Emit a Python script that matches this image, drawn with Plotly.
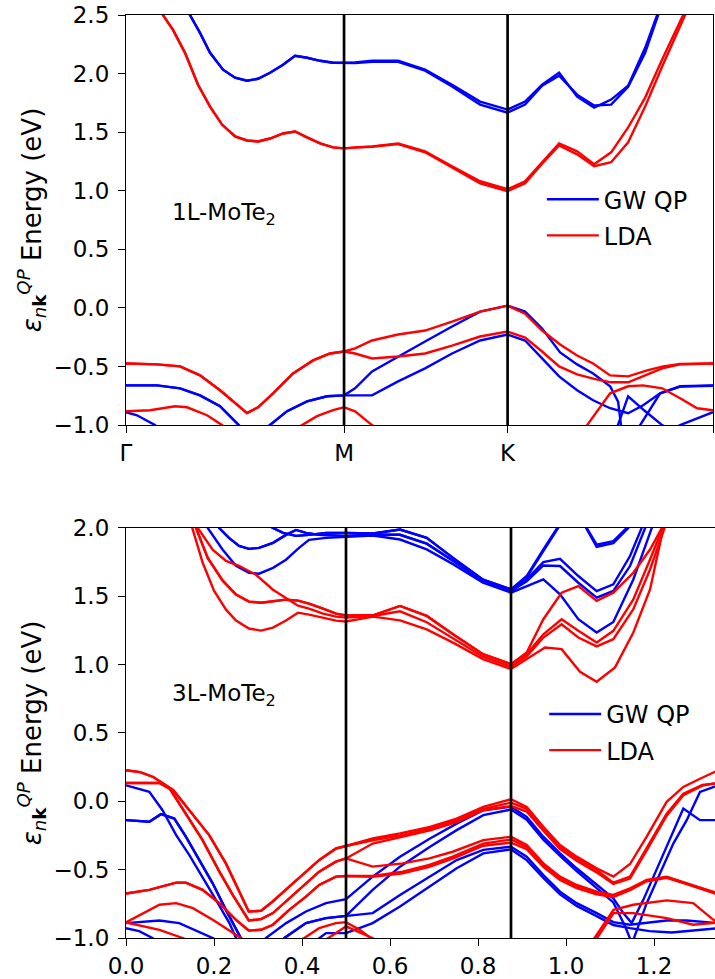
import plotly.graph_objects as go

# ---------------------------------------------------------------
# k-path: Γ - M - K - Γ (cumulative path length)
# ---------------------------------------------------------------
K_TICKS = [0.0, 0.5, 0.875, 1.346]
K_LABELS = ["Γ", "M", "K", "Γ"]
K_LINES = [0.5, 0.875]          # high-symmetry markers drawn as vertical lines

# ===============================================================
# 1L-MoTe2 bands, each point is (k, E [eV])
# ===============================================================
# LDA conduction band
L1_LDA_CB_GM = [(0, 2.85), (0.04, 2.72), (0.07, 2.58), (0.0849, 2.5), (0.1078, 2.373), (0.1353, 2.177),
                (0.1651, 1.905), (0.1927, 1.718), (0.2202, 1.565), (0.25, 1.463), (0.2775, 1.429),
                (0.3028, 1.421), (0.3303, 1.446), (0.3601, 1.489), (0.3876, 1.506), (0.4151, 1.455),
                (0.445, 1.404), (0.4748, 1.370), (0.5, 1.362)]
L1_LDA_CB_MK_A = [(0.5252, 1.370), (0.5642, 1.379), (0.6239, 1.404), (0.6858, 1.336), (0.7477, 1.209),
                  (0.8119, 1.081), (0.875, 1.013)]
L1_LDA_CB_MK_B = [(0.5252, 1.368), (0.5642, 1.376), (0.6239, 1.398), (0.6858, 1.328), (0.7477, 1.198),
                  (0.8119, 1.062), (0.875, 0.996)]
L1_LDA_CB_KG_A = [(0.9151, 1.081), (0.9541, 1.243), (0.9931, 1.404), (1.0344, 1.336), (1.0734, 1.226),
                  (1.1124, 1.328), (1.1514, 1.540), (1.1904, 1.795), (1.2294, 2.12), (1.2775, 2.5),
                  (1.31, 2.68), (1.346, 2.85)]
L1_LDA_CB_KG_B = [(0.9151, 1.064), (0.9541, 1.23), (0.9931, 1.387), (1.0344, 1.311), (1.0734, 1.209),
                  (1.1124, 1.243), (1.1514, 1.413), (1.1904, 1.718), (1.2294, 2.06), (1.282, 2.5),
                  (1.31, 2.66), (1.346, 2.85)]

# GW quasiparticle conduction band
L1_GW_CB_GM = [(0, 3.15), (0.05, 3.05), (0.1, 2.81), (0.1468, 2.5), (0.1697, 2.347), (0.1927, 2.177),
               (0.2225, 2.033), (0.25, 1.965), (0.2775, 1.939), (0.3028, 1.956), (0.3303, 2.007),
               (0.3601, 2.075), (0.3876, 2.152), (0.4151, 2.135), (0.445, 2.109), (0.4748, 2.092),
               (0.5, 2.092)]
L1_GW_CB_MK_A = [(0.5252, 2.095), (0.5642, 2.109), (0.6239, 2.109), (0.6858, 2.033), (0.7477, 1.905),
                 (0.8119, 1.761), (0.875, 1.693)]
L1_GW_CB_MK_B = [(0.5252, 2.09), (0.5642, 2.10), (0.6239, 2.10), (0.6858, 2.025), (0.7477, 1.89),
                 (0.8119, 1.735), (0.875, 1.667)]
L1_GW_CB_KG_A = [(0.9151, 1.761), (0.9541, 1.905), (0.9931, 2.007), (1.0344, 1.803), (1.0734, 1.710),
                 (1.1124, 1.778), (1.1514, 1.897), (1.1904, 2.220), (1.2179, 2.5), (1.26, 2.8),
                 (1.30, 3.05), (1.346, 3.15)]
L1_GW_CB_KG_B = [(0.9151, 1.735), (0.9541, 1.897), (0.9931, 1.982), (1.0344, 1.820), (1.0734, 1.727),
                 (1.1124, 1.735), (1.1514, 1.888), (1.1904, 2.177), (1.2202, 2.5), (1.26, 2.78),
                 (1.30, 3.03), (1.346, 3.15)]

# LDA valence bands
L1_LDA_VB_GM = [(0, -0.474), (0.0711, -0.482), (0.1239, -0.499), (0.1697, -0.576), (0.2156, -0.703),
                (0.25, -0.814), (0.2775, -0.898), (0.3028, -0.848), (0.3372, -0.729), (0.383, -0.559),
                (0.4289, -0.448), (0.4679, -0.389), (0.5, -0.372)]
L1_LDA_VB_MK_A = [(0.5252, -0.346), (0.5642, -0.278), (0.6239, -0.227), (0.6858, -0.193), (0.7477, -0.117),
                  (0.8119, -0.032), (0.875, 0.019)]
L1_LDA_VB_MK_B = [(0.5252, -0.389), (0.5642, -0.431), (0.6239, -0.414), (0.6858, -0.389), (0.7477, -0.321),
                  (0.8119, -0.244), (0.875, -0.202)]
L1_LDA_VB_KG_A = [(0.9151, -0.049), (0.9541, -0.193), (0.9954, -0.312), (1.0344, -0.406), (1.0711, -0.474),
                  (1.1101, -0.576), (1.1514, -0.584), (1.195, -0.533), (1.2317, -0.499), (1.2706, -0.478),
                  (1.346, -0.474)]
L1_LDA_VB_KG_B = [(0.9151, -0.253), (0.9541, -0.372), (0.9931, -0.499), (1.0344, -0.567), (1.0734, -0.605),
                  (1.1124, -0.635), (1.1514, -0.635), (1.1904, -0.576), (1.2294, -0.516), (1.2706, -0.482),
                  (1.346, -0.474)]
L1_LDA_VB2 = [(0, -0.882), (0.055, -0.873), (0.1124, -0.839), (0.1399, -0.848), (0.1858, -0.916),
              (0.2202, -1.0), (0.26, -1.12), (0.35, -1.12), (0.4037, -1.0), (0.4381, -0.924), (0.4748, -0.873),
              (0.5, -0.848), (0.5252, -0.882), (0.5642, -1.0), (0.62, -1.15), (0.875, -1.4), (1.03, -1.15),
              (1.0573, -1.0), (1.1101, -0.729), (1.1514, -0.669), (1.1858, -0.661), (1.2294, -0.686),
              (1.2706, -0.771), (1.3096, -0.856), (1.346, -0.873)]

# GW quasiparticle valence bands
L1_GW_VB_GM = [(0, -0.661), (0.0711, -0.661), (0.1239, -0.686), (0.1697, -0.746), (0.2156, -0.839),
               (0.2569, -1.0), (0.28, -1.08), (0.30, -1.09), (0.3303, -1.0), (0.3693, -0.881), (0.4151, -0.797),
               (0.461, -0.754), (0.5, -0.746)]
L1_GW_VB_MK_A = [(0.5252, -0.686), (0.5642, -0.542), (0.6239, -0.414), (0.6858, -0.287), (0.7477, -0.159),
                 (0.8119, -0.032), (0.875, 0.019)]
L1_GW_VB_MK_B = [(0.5252, -0.746), (0.5642, -0.746), (0.6239, -0.627), (0.6858, -0.516), (0.7477, -0.389),
                 (0.8119, -0.278), (0.875, -0.227)]
L1_GW_VB_KG_A = [(0.9151, -0.032), (0.9541, -0.176), (0.9954, -0.380), (1.0344, -0.482), (1.0711, -0.559),
                 (1.1101, -0.669), (1.1284, -0.80), (1.135, -1.0), (1.15, -1.2), (1.346, -1.4)]
L1_GW_VB_KG_B = [(0.9151, -0.278), (0.9541, -0.431), (0.9931, -0.584), (1.0344, -0.703), (1.0711, -0.788),
                 (1.1101, -0.856), (1.1514, -0.899), (1.1858, -0.831), (1.2248, -0.729), (1.2706, -0.669),
                 (1.346, -0.661)]
L1_GW_VB2 = [(0, -0.89), (0.0252, -0.916), (0.0665, -1.0), (0.1, -1.1), (0.3, -1.3), (0.875, -1.5),
             (1.10, -1.2), (1.128, -1.0), (1.1514, -0.754), (1.19, -0.88), (1.2294, -1.0), (1.25, -1.04),
             (1.2706, -1.0), (1.346, -0.89)]
L1_GW_VB3 = [(1.10, -1.4), (1.16, -1.15), (1.179, -1.0), (1.2248, -0.729), (1.2706, -0.672), (1.346, -0.664)]

# ===============================================================
# 3L-MoTe2 bands, each point is (k, E [eV])
# ===============================================================
# LDA conduction bands
L3_LDA_CB_GM_1 = [(0, 2.75), (0.06, 2.62), (0.12, 2.33), (0.1516, 2.0), (0.1743, 1.745), (0.2, 1.541),
                  (0.2273, 1.402), (0.25, 1.322), (0.2795, 1.264), (0.3068, 1.249), (0.3341, 1.271),
                  (0.3636, 1.322), (0.3909, 1.380), (0.4159, 1.366), (0.4477, 1.344), (0.4773, 1.322), (0.5, 1.315)]
L3_LDA_CB_GM_2 = [(0, 2.75), (0.06, 2.63), (0.12, 2.36), (0.159, 2.0), (0.1857, 1.781), (0.2198, 1.614),
                  (0.25, 1.512), (0.2795, 1.461), (0.3068, 1.453), (0.3341, 1.461), (0.3636, 1.475),
                  (0.3909, 1.468), (0.4159, 1.446), (0.4477, 1.410), (0.4773, 1.373), (0.5, 1.359)]
L3_LDA_CB_GM_3 = [(0, 2.75), (0.06, 2.64), (0.12, 2.38), (0.163, 2.0), (0.197, 1.840), (0.2273, 1.759),
                  (0.2568, 1.723), (0.2955, 1.657), (0.3341, 1.548), (0.3636, 1.490), (0.3909, 1.431),
                  (0.4159, 1.410), (0.4477, 1.373), (0.4773, 1.351), (0.5, 1.344)]
L3_LDA_CB_MK_1 = [(0.5614, 1.351), (0.6227, 1.324), (0.6834, 1.258), (0.7432, 1.161), (0.8114, 1.040), (0.875, 0.968)]
L3_LDA_CB_MK_2 = [(0.5614, 1.361), (0.6227, 1.429), (0.6834, 1.356), (0.7432, 1.222), (0.8114, 1.076), (0.875, 1.003)]
L3_LDA_CB_MK_3 = [(0.5614, 1.356), (0.6227, 1.39), (0.6834, 1.31), (0.7432, 1.19), (0.8114, 1.058), (0.875, 0.985)]
L3_LDA_CB_KG_1 = [(0.9107, 1.04), (0.9523, 1.125), (0.990, 1.113), (1.0318, 0.948), (1.0697, 0.875),
                  (1.1114, 0.980), (1.153, 1.235), (1.191, 1.55), (1.2212, 2.0), (1.27, 2.35), (1.346, 2.75)]
L3_LDA_CB_KG_2 = [(0.9107, 1.06), (0.9485, 1.198), (0.990, 1.295), (1.028, 1.198), (1.0697, 1.133),
                  (1.1076, 1.186), (1.153, 1.405), (1.191, 1.696), (1.224, 2.0), (1.27, 2.33), (1.346, 2.75)]
L3_LDA_CB_KG_3 = [(0.9107, 1.077), (0.9485, 1.222), (0.990, 1.332), (1.028, 1.247), (1.0697, 1.162),
                  (1.1076, 1.247), (1.153, 1.477), (1.191, 1.769), (1.22, 2.0), (1.27, 2.34), (1.346, 2.75)]
L3_LDA_CB_KG_4 = [(0.9107, 1.089), (0.9485, 1.332), (0.990, 1.526), (1.028, 1.575), (1.0697, 1.466),
                  (1.1076, 1.526), (1.153, 1.672), (1.191, 1.842), (1.2175, 2.0), (1.27, 2.33), (1.346, 2.75)]

# GW quasiparticle conduction bands
L3_GW_CB_GM_1 = [(0, 3.0), (0.1, 2.6), (0.16, 2.25), (0.1857, 2.0), (0.2198, 1.840), (0.25, 1.723),
                 (0.2795, 1.672), (0.3023, 1.665), (0.3341, 1.708), (0.3636, 1.767), (0.3932, 1.854),
                 (0.4159, 1.913), (0.4545, 1.927), (0.5, 1.934)]
L3_GW_CB_GM_2 = [(0, 3.0), (0.1, 2.65), (0.18, 2.2), (0.2114, 2.0), (0.2341, 1.927), (0.2568, 1.869),
                 (0.2795, 1.847), (0.3023, 1.854), (0.3341, 1.891), (0.3636, 1.949), (0.3864, 1.985),
                 (0.4091, 1.964), (0.4386, 1.949), (0.5, 1.942)]
L3_GW_CB_GM_3 = [(0, 3.0), (0.15, 2.5), (0.25, 2.15), (0.3, 2.06), (0.334, 2.0), (0.357, 1.964),
                 (0.386, 1.942), (0.416, 1.949), (0.455, 1.964), (0.5, 1.964)]
L3_GW_CB_MK_1 = [(0.5614, 1.959), (0.6227, 1.988), (0.6834, 1.927), (0.7432, 1.781), (0.8114, 1.621), (0.875, 1.550)]
L3_GW_CB_MK_2 = [(0.5614, 1.95), (0.6227, 1.95), (0.6834, 1.885), (0.7432, 1.76), (0.8114, 1.61), (0.875, 1.538)]
L3_GW_CB_MK_3 = [(0.5614, 1.944), (0.6227, 1.915), (0.6834, 1.843), (0.7432, 1.735), (0.8114, 1.599), (0.875, 1.526)]
L3_GW_CB_KG_1 = [(0.9107, 1.648), (0.9485, 1.842), (0.979, 2.0), (1.01, 2.15), (1.03, 2.1), (1.047, 2.0),
                 (1.0697, 1.878), (1.1076, 1.903), (1.138, 2.0), (1.2, 2.4), (1.346, 3.0)]
L3_GW_CB_KG_1B = [(0.9107, 1.64), (0.9485, 1.83), (0.979, 1.99), (1.01, 2.14), (1.03, 2.09), (1.047, 1.99),
                  (1.0697, 1.862), (1.1076, 1.888), (1.142, 2.0), (1.2, 2.38), (1.346, 3.0)]
L3_GW_CB_KG_2 = [(0.9107, 1.623), (0.9485, 1.75), (0.9864, 1.774), (1.028, 1.648), (1.0697, 1.538),
                 (1.1076, 1.587), (1.1455, 1.794), (1.172, 2.0), (1.22, 2.45), (1.346, 3.0)]
L3_GW_CB_KG_3 = [(0.9107, 1.61), (0.9485, 1.725), (0.9864, 1.721), (1.028, 1.599), (1.0697, 1.49),
                 (1.1076, 1.539), (1.1455, 1.721), (1.18, 2.0), (1.23, 2.45), (1.346, 3.0)]
L3_GW_CB_KG_4 = [(0.9107, 1.575), (0.9485, 1.623), (0.9864, 1.514), (1.028, 1.332), (1.0697, 1.235),
                 (1.1076, 1.312), (1.153, 1.623), (1.195, 2.0), (1.24, 2.45), (1.346, 3.0)]

# LDA valence bands
L3_LDA_VB_GM_A = [(0, 0.227), (0.032, 0.214), (0.062, 0.178), (0.1075, 0.081), (0.138, -0.041), (0.189, -0.247),
                  (0.227, -0.454), (0.2575, -0.661), (0.279, -0.806), (0.307, -0.801), (0.3334, -0.733),
                  (0.371, -0.624), (0.409, -0.515), (0.4394, -0.429), (0.4773, -0.345), (0.5, -0.327)]
L3_LDA_VB_GM_B = [(0, 0.134), (0.076, 0.134), (0.10, 0.09), (0.136, -0.09), (0.174, -0.284), (0.21, -0.502),
                  (0.2425, -0.685), (0.279, -0.872), (0.307, -0.862), (0.334, -0.818), (0.371, -0.709),
                  (0.409, -0.600), (0.439, -0.515), (0.477, -0.442), (0.5, -0.418)]
L3_LDA_VB_GM_C = [(0, -0.675), (0.053, -0.648), (0.114, -0.595), (0.136, -0.595), (0.174, -0.648),
                  (0.212, -0.745), (0.25, -0.867), (0.279, -0.945), (0.307, -0.94), (0.334, -0.903),
                  (0.371, -0.794), (0.409, -0.697), (0.439, -0.612), (0.477, -0.551), (0.5, -0.546)]
L3_LDA_VB_GM_D = [(0, -0.886), (0.076, -0.757), (0.114, -0.745), (0.152, -0.782), (0.197, -0.867),
                  (0.243, -0.964), (0.27, -1.02), (0.3, -1.08), (0.36, -1.08), (0.405, -1.0), (0.439, -0.928),
                  (0.477, -0.891), (0.5, -0.884)]
L3_LDA_VB_GM_E = [(0, -0.886), (0.076, -0.94), (0.129, -1.0), (0.2, -1.1), (0.4, -1.1), (0.46, -1.0), (0.5, -0.915)]
L3_LDA_VB_MK_U1 = [(0.5606, -0.272), (0.6227, -0.235), (0.6909, -0.187), (0.7515, -0.126), (0.8121, -0.041), (0.875, 0.015)]
L3_LDA_VB_MK_U2 = [(0.5606, -0.285), (0.6227, -0.25), (0.6909, -0.20), (0.7515, -0.14), (0.8121, -0.055), (0.875, -0.01)]
L3_LDA_VB_MK_U3 = [(0.5606, -0.309), (0.6227, -0.262), (0.6909, -0.212), (0.7515, -0.152), (0.8121, -0.065), (0.875, -0.035)]
L3_LDA_VB_MK_L1 = [(0.5606, -0.478), (0.6288, -0.454), (0.6894, -0.418), (0.7424, -0.369), (0.8121, -0.284), (0.875, -0.259)]
L3_LDA_VB_MK_L2 = [(0.5606, -0.546), (0.6288, -0.515), (0.6894, -0.466), (0.7424, -0.405), (0.8121, -0.309), (0.875, -0.279)]
L3_LDA_VB_MK_L3 = [(0.5606, -0.552), (0.6288, -0.527), (0.6894, -0.48), (0.7424, -0.42), (0.8121, -0.325), (0.875, -0.303)]
L3_LDA_VB_MK_D = [(0.531, -0.94), (0.556, -1.0), (0.6, -1.1), (0.875, -1.4)]
L3_LDA_VB_MK_E = [(0.54, -0.975), (0.56, -1.0), (0.6, -1.08), (0.875, -1.4)]
L3_LDA_VB_KG_A = [(0.9107, -0.041), (0.9485, -0.187), (0.9864, -0.320), (1.0242, -0.405), (1.0697, -0.490),
                  (1.1076, -0.551), (1.1455, -0.459), (1.1834, -0.259), (1.2288, -0.004), (1.2666, 0.105),
                  (1.3045, 0.165), (1.346, 0.227)]
L3_LDA_VB_KG_B = [(0.9107, -0.055), (0.9485, -0.2), (0.9864, -0.333), (1.0242, -0.418), (1.0697, -0.503),
                  (1.1076, -0.595), (1.1455, -0.551), (1.1834, -0.345), (1.2288, -0.090), (1.2666, 0.056),
                  (1.31, 0.12), (1.346, 0.134)]
L3_LDA_VB_KG_C = [(0.9107, -0.075), (0.9485, -0.215), (0.9864, -0.35), (1.0242, -0.435), (1.0697, -0.52),
                  (1.1076, -0.605), (1.1455, -0.565), (1.1834, -0.36), (1.2288, -0.105), (1.2666, 0.045),
                  (1.31, 0.115), (1.346, 0.134)]
L3_LDA_VB_KG_L1 = [(0.9107, -0.320), (0.9485, -0.454), (0.9864, -0.551), (1.0242, -0.612), (1.0697, -0.661),
                   (1.1076, -0.685), (1.1455, -0.636), (1.1834, -0.575), (1.2288, -0.551), (1.2742, -0.600),
                   (1.3386, -0.673), (1.346, -0.675)]
L3_LDA_VB_KG_L2 = [(0.9107, -0.335), (0.9485, -0.47), (0.9864, -0.565), (1.0242, -0.625), (1.0697, -0.672),
                   (1.1076, -0.695), (1.1455, -0.645), (1.1834, -0.58), (1.2288, -0.555), (1.2742, -0.603),
                   (1.3386, -0.673), (1.346, -0.675)]
L3_LDA_VB_KG_L3 = [(0.9107, -0.35), (0.9485, -0.48), (0.9864, -0.575), (1.0242, -0.635), (1.0697, -0.68),
                   (1.1076, -0.70), (1.1455, -0.65), (1.1834, -0.585), (1.2288, -0.56), (1.2742, -0.606),
                   (1.3386, -0.675), (1.346, -0.675)]
L3_LDA_VB_KG_D = [(1.04, -1.1), (1.065, -1.0), (1.108, -0.794), (1.153, -0.757), (1.229, -0.725),
                  (1.289, -0.745), (1.335, -0.867), (1.346, -0.886)]
L3_LDA_VB_KG_E = [(1.05, -1.1), (1.07, -1.0), (1.108, -0.818), (1.153, -0.818), (1.229, -0.855),
                  (1.289, -0.903), (1.346, -0.886)]

# GW quasiparticle valence bands
L3_GW_VB_GM_A = [(0, 0.117), (0.053, 0.069), (0.083, -0.065), (0.114, -0.247), (0.144, -0.393), (0.174, -0.551),
                 (0.2045, -0.721), (0.235, -0.891), (0.25, -1.0), (0.28, -1.1), (0.3, -1.12), (0.318, -1.0),
                 (0.364, -0.891), (0.409, -0.806), (0.4545, -0.745), (0.5, -0.716)]
L3_GW_VB_GM_B = [(0, -0.138), (0.053, -0.15), (0.0795, -0.094), (0.1098, -0.126), (0.136, -0.259),
                 (0.166, -0.429), (0.197, -0.6), (0.227, -0.794), (0.261, -1.0), (0.29, -1.12), (0.33, -1.1),
                 (0.36, -1.0), (0.409, -0.891), (0.4545, -0.855), (0.5, -0.838)]
L3_GW_VB_GM_C = [(0, -0.891), (0.076, -0.872), (0.121, -0.891), (0.197, -1.0), (0.25, -1.1), (0.4, -1.1),
                 (0.44, -1.0), (0.4545, -0.964), (0.5, -0.964)]
L3_GW_VB_GM_D = [(0, -0.928), (0.03, -0.95), (0.06, -1.0), (0.1, -1.1), (1.346, -1.4)]
L3_GW_VB_MK_U1 = [(0.5606, -0.551), (0.6227, -0.405), (0.6909, -0.272), (0.7515, -0.163), (0.8121, -0.065), (0.875, -0.04)]
L3_GW_VB_MK_U2 = [(0.5606, -0.648), (0.6227, -0.478), (0.6909, -0.332), (0.7515, -0.211), (0.8121, -0.101), (0.875, -0.06)]
L3_GW_VB_MK_L1 = [(0.5606, -0.818), (0.6227, -0.685), (0.6909, -0.551), (0.7515, -0.43), (0.8121, -0.355), (0.875, -0.332)]
L3_GW_VB_MK_L2 = [(0.5606, -0.891), (0.6227, -0.770), (0.6909, -0.624), (0.7515, -0.490), (0.8121, -0.381), (0.875, -0.352)]
L3_GW_VB_KG_U1 = [(0.9107, -0.114), (0.9485, -0.259), (0.9864, -0.381), (1.0242, -0.49), (1.0697, -0.612),
                  (1.1076, -0.709), (1.1303, -0.818), (1.1493, -0.891), (1.1757, -0.721), (1.2061, -0.502),
                  (1.2364, -0.284), (1.2666, -0.053), (1.3045, -0.138), (1.346, -0.138)]
L3_GW_VB_KG_U2 = [(0.9107, -0.135), (0.9485, -0.28), (0.9864, -0.40), (1.0242, -0.51), (1.0697, -0.635),
                  (1.1076, -0.74), (1.135, -0.92), (1.15, -1.04), (1.1834, -0.745), (1.2136, -0.527),
                  (1.2439, -0.309), (1.2743, -0.138), (1.3045, 0.069), (1.346, 0.117)]
L3_GW_VB_KG_L1 = [(0.9107, -0.405), (0.9485, -0.539), (0.9864, -0.661), (1.0242, -0.745), (1.0697, -0.818),
                  (1.1076, -0.884), (1.1455, -0.903), (1.1834, -0.891), (1.2288, -0.872), (1.2742, -0.872),
                  (1.346, -0.891)]
L3_GW_VB_KG_L2 = [(0.9107, -0.43), (0.9485, -0.56), (0.9864, -0.68), (1.0242, -0.765), (1.0697, -0.84),
                  (1.1076, -0.905), (1.1455, -0.928), (1.19, -0.95), (1.24, -0.96), (1.30, -0.945), (1.346, -0.928)]

# ---------------------------------------------------------------
# assemble full Γ-M-K-Γ bands from their segments
# ---------------------------------------------------------------
L1_GW = [
    L1_GW_CB_GM + L1_GW_CB_MK_A + L1_GW_CB_KG_A,
    L1_GW_CB_GM + L1_GW_CB_MK_B + L1_GW_CB_KG_B,
    L1_GW_VB_GM + L1_GW_VB_MK_A + L1_GW_VB_KG_A,
    L1_GW_VB_GM + L1_GW_VB_MK_B + L1_GW_VB_KG_B,
    L1_GW_VB2,
    L1_GW_VB3,
]
L1_LDA = [
    L1_LDA_CB_GM + L1_LDA_CB_MK_A + L1_LDA_CB_KG_A,
    L1_LDA_CB_GM + L1_LDA_CB_MK_B + L1_LDA_CB_KG_B,
    L1_LDA_VB_GM + L1_LDA_VB_MK_A + L1_LDA_VB_KG_A,
    L1_LDA_VB_GM + L1_LDA_VB_MK_B + L1_LDA_VB_KG_B,
    L1_LDA_VB2,
]
L3_GW = [
    L3_GW_CB_GM_3 + L3_GW_CB_MK_1 + L3_GW_CB_KG_1,
    L3_GW_CB_GM_3 + L3_GW_CB_MK_1 + L3_GW_CB_KG_1B,
    L3_GW_CB_GM_2 + L3_GW_CB_MK_2 + L3_GW_CB_KG_2,
    L3_GW_CB_GM_2 + L3_GW_CB_MK_2 + L3_GW_CB_KG_3,
    L3_GW_CB_GM_1 + L3_GW_CB_MK_3 + L3_GW_CB_KG_4,
    L3_GW_VB_GM_A + L3_GW_VB_MK_U1 + L3_GW_VB_KG_U1,
    L3_GW_VB_GM_B + L3_GW_VB_MK_U2 + L3_GW_VB_KG_U2,
    L3_GW_VB_GM_B + L3_GW_VB_MK_L1 + L3_GW_VB_KG_L1,
    L3_GW_VB_GM_C + L3_GW_VB_MK_L2 + L3_GW_VB_KG_L2,
    L3_GW_VB_GM_D,
]
L3_LDA = [
    L3_LDA_CB_GM_1 + L3_LDA_CB_MK_1 + L3_LDA_CB_KG_1,
    L3_LDA_CB_GM_3 + L3_LDA_CB_MK_3 + L3_LDA_CB_KG_2,
    L3_LDA_CB_GM_2 + L3_LDA_CB_MK_2 + L3_LDA_CB_KG_3,
    L3_LDA_CB_GM_2 + L3_LDA_CB_MK_2 + L3_LDA_CB_KG_4,
    L3_LDA_VB_GM_A + L3_LDA_VB_MK_U1 + L3_LDA_VB_KG_A,
    L3_LDA_VB_GM_A + L3_LDA_VB_MK_U2 + L3_LDA_VB_KG_B,
    L3_LDA_VB_GM_B + L3_LDA_VB_MK_U3 + L3_LDA_VB_KG_C,
    L3_LDA_VB_GM_B + L3_LDA_VB_MK_L1 + L3_LDA_VB_KG_L1,
    L3_LDA_VB_GM_C + L3_LDA_VB_MK_L2 + L3_LDA_VB_KG_L2,
    L3_LDA_VB_GM_C + L3_LDA_VB_MK_L3 + L3_LDA_VB_KG_L3,
    L3_LDA_VB_GM_D + L3_LDA_VB_MK_D + L3_LDA_VB_KG_D,
    L3_LDA_VB_GM_E + L3_LDA_VB_MK_E + L3_LDA_VB_KG_E,
]

BLUE = "#0000ff"
RED = "#ff0000"
FONT = "DejaVu Sans"
FS = 23          # tick labels and panel labels
FS_LEGEND = 24
FS_TITLE = 26    # y-axis titles

fig = go.Figure()


def add_bands(bands, color, name, xa, ya, legend):
    for i, band in enumerate(bands):
        ks = [p[0] for p in band]
        es = [p[1] for p in band]
        fig.add_trace(go.Scatter(
            x=ks, y=es, mode="lines", line=dict(color=color, width=2.4),
            xaxis=xa, yaxis=ya, name=name, legend=legend,
            legendgroup=legend + name, showlegend=(i == 0), hoverinfo="skip"))


add_bands(L1_GW, BLUE, "GW QP", "x", "y", "legend")
add_bands(L1_LDA, RED, "LDA", "x", "y", "legend")
add_bands(L3_GW, BLUE, "GW QP", "x2", "y2", "legend2")
add_bands(L3_LDA, RED, "LDA", "x2", "y2", "legend2")

# vertical markers at M and K
for xa, ya, y0, y1 in (("x", "y", -1.0, 2.5), ("x2", "y2", -1.0, 2.0)):
    for kv in K_LINES:
        fig.add_shape(type="line", xref=xa, yref=ya, x0=kv, x1=kv, y0=y0, y1=y1,
                      line=dict(color="black", width=2.7), layer="above")

axis_common = dict(showgrid=False, zeroline=False, showline=True, linecolor="black", linewidth=1.2,
                   ticks="outside", ticklen=7, tickwidth=1.2, tickcolor="black",
                   tickfont=dict(family=FONT, size=FS, color="black"))

title_text = "<i>ε</i><sub><i>n</i><b>k</b></sub><sup><i>QP</i></sup> Energy (eV)"
legend_common = dict(xanchor="left", yanchor="middle", bgcolor="rgba(0,0,0,0)",
                     font=dict(family=FONT, size=FS_LEGEND), itemwidth=52, tracegroupgap=2)

fig.update_layout(
    width=715, height=979,
    margin=dict(l=126, r=0, t=15, b=37),
    paper_bgcolor="white", plot_bgcolor="white",
    font=dict(family=FONT, size=FS, color="black"),
    xaxis=dict(axis_common, domain=[0, 587 / 589], range=[0, 1.346], anchor="y", mirror=True,
               tickmode="array", tickvals=K_TICKS, ticktext=K_LABELS),
    yaxis=dict(axis_common, domain=[0.5557, 1.0], range=[-1.0, 2.5], anchor="x", mirror=True,
               tickmode="array", tickvals=[-1.0, -0.5, 0.0, 0.5, 1.0, 1.5, 2.0, 2.5], tickformat=".1f",
               ticklabelstandoff=4,
               title=dict(text=title_text, font=dict(family=FONT, size=FS_TITLE), standoff=4)),
    xaxis2=dict(axis_common, domain=[0, 1.0], range=[0, 589 / 440], anchor="y2", mirror=True,
                tickmode="array", tickvals=[0.0, 0.2, 0.4, 0.6, 0.8, 1.0, 1.2], tickformat=".1f"),
    yaxis2=dict(axis_common, domain=[0.0, 0.4443], range=[-1.0, 2.0], anchor="x2", mirror=False,
                tickmode="array", tickvals=[-1.0, -0.5, 0.0, 0.5, 1.0, 1.5, 2.0], tickformat=".1f",
                ticklabelstandoff=4,
                title=dict(text=title_text, font=dict(family=FONT, size=FS_TITLE), standoff=4)),
    legend=dict(legend_common, x=0.706, y=0.7805),
    legend2=dict(legend_common, x=0.71, y=0.2228),
    annotations=[
        dict(text="1L-MoTe<sub>2</sub>", x=0.101, y=0.80, xref="x", yref="y", xanchor="left",
             yanchor="middle", showarrow=False, font=dict(family=FONT, size=FS)),
        dict(text="3L-MoTe<sub>2</sub>", x=0.1, y=0.775, xref="x2", yref="y2", xanchor="left",
             yanchor="middle", showarrow=False, font=dict(family=FONT, size=FS)),
    ],
)

fig.write_html("out.html")
